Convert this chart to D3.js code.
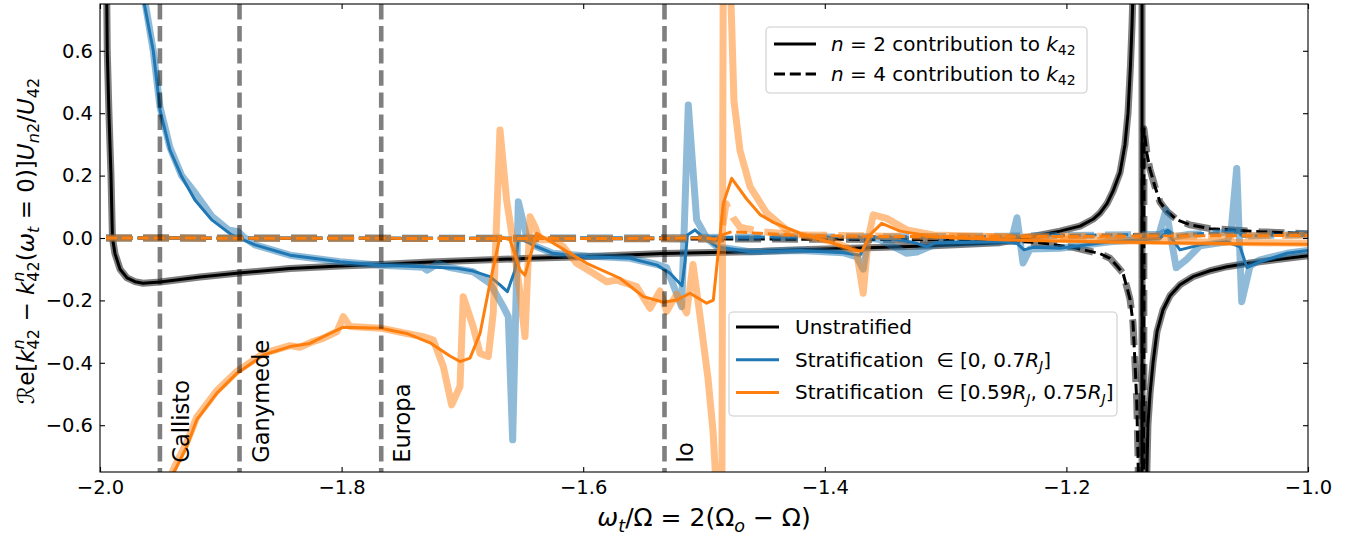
<!DOCTYPE html>
<html>
<head>
<meta charset="utf-8">
<script src="https://cdn.jsdelivr.net/npm/d3@7"></script>
<style>
  body { margin: 0; background: #ffffff; }
  svg { display: block; }
  text { font-family: "DejaVu Sans", sans-serif; white-space: pre; }
</style>
</head>
<body>
<svg id="chart" width="1363" height="534"></svg>
<script>
// ---- axis ticks ----
const xTicks = [-2.0, -1.8, -1.6, -1.4, -1.2, -1.0];
const yTicks = [-0.6, -0.4, -0.2, 0.0, 0.2, 0.4, 0.6];

// ---- Galilean moon tidal frequencies, omega_t / Omega ----
const moonNames = ["Callisto", "Ganymede", "Europa", "Io"];
const moonOmega = [-1.9504, -1.8845, -1.7672, -1.5327];

// ---- unstratified model: n = 2 and n = 4 contributions [omega, value] ----
const unstratN2 = [
  [-1.9955, 1.2], [-1.9940, 0.6], [-1.9926, 0.4], [-1.9909, 0.2], [-1.9897, 0.0],
  [-1.9876, -0.05], [-1.9834, -0.10], [-1.9776, -0.128], [-1.9710, -0.140], [-1.9644, -0.145],
  [-1.9503, -0.141], [-1.9172, -0.125], [-1.8849, -0.112], [-1.8427, -0.098], [-1.8013, -0.090],
  [-1.7674, -0.085], [-1.7268, -0.077], [-1.6772, -0.070], [-1.6440, -0.065], [-1.6002, -0.060],
  [-1.5339, -0.050], [-1.4536, -0.043], [-1.4205, -0.038], [-1.3709, -0.032], [-1.3104, -0.025],
  [-1.2550, -0.015], [-1.2277, 0.005], [-1.2053, 0.022], [-1.1887, 0.038], [-1.1780, 0.060],
  [-1.1722, 0.080], [-1.1664, 0.110], [-1.1614, 0.150], [-1.1556, 0.210], [-1.1515, 0.300],
  [-1.1490, 0.400], [-1.1470, 0.550], [-1.1457, 0.680], [-1.1444, 0.850], [-1.1416, 2.0],
  [-1.1378, 30], [-1.1370, -30], [-1.1349, -2.0], [-1.1337, -0.80], [-1.1325, -0.60],
  [-1.1308, -0.50], [-1.1283, -0.40], [-1.1250, -0.30], [-1.1200, -0.23], [-1.1142, -0.185],
  [-1.1060, -0.150], [-1.0952, -0.124], [-1.0811, -0.105], [-1.0671, -0.092], [-1.0480, -0.080],
  [-1.0273, -0.070], [-1.0000, -0.057]
];
const unstratN4 = [
  [-1.9950, 0.0], [-1.8000, -0.001], [-1.6000, -0.002], [-1.4000, -0.004], [-1.3000, -0.006],
  [-1.2550, -0.008], [-1.2219, -0.015], [-1.1945, -0.030], [-1.1722, -0.050], [-1.1639, -0.065],
  [-1.1581, -0.090], [-1.1531, -0.113], [-1.1498, -0.160], [-1.1474, -0.195], [-1.1449, -0.270],
  [-1.1432, -0.40], [-1.1418, -0.52], [-1.1407, -0.70], [-1.1399, -0.90], [-1.1382, -20],
  [-1.1358, 0.35], [-1.1333, 0.27], [-1.1308, 0.22], [-1.1267, 0.165], [-1.1225, 0.115],
  [-1.1167, 0.085], [-1.1084, 0.058], [-1.0977, 0.042], [-1.0811, 0.030], [-1.0397, 0.020],
  [-1.0000, 0.014]
];

// ---- stratification in [0, 0.7 R_J] ----
const strat1N2 = [
  [-1.9661, 0.82], [-1.9633, 0.75], [-1.9559, 0.60], [-1.9503, 0.41], [-1.9421, 0.282],
  [-1.9324, 0.197], [-1.9214, 0.122], [-1.9075, 0.058], [-1.8910, 0.010], [-1.8717, -0.022],
  [-1.8427, -0.055], [-1.8013, -0.076], [-1.7674, -0.087], [-1.7326, -0.092], [-1.7045, -0.097],
  [-1.6912, -0.106], [-1.6772, -0.124], [-1.6689, -0.150], [-1.6628, -0.172], [-1.6565, -0.103],
  [-1.6537, 0.000], [-1.6385, -0.028], [-1.6250, -0.049], [-1.5969, -0.060], [-1.5613, -0.065],
  [-1.5389, -0.087], [-1.5281, -0.113], [-1.5182, -0.153], [-1.5157, -0.076], [-1.5137, 0.010],
  [-1.5075, 0.026], [-1.5006, 0.002], [-1.4892, -0.028], [-1.4619, -0.044], [-1.4205, -0.040],
  [-1.3849, -0.047], [-1.3709, -0.055], [-1.3626, 0.004], [-1.3502, -0.002], [-1.3377, -0.006],
  [-1.3237, -0.017], [-1.3154, -0.028], [-1.3088, -0.016], [-1.2550, -0.012], [-1.2409, -0.017],
  [-1.2351, -0.038], [-1.2277, -0.030], [-1.2053, -0.033], [-1.1639, -0.012], [-1.1391, -0.006],
  [-1.1225, -0.001], [-1.1167, 0.020], [-1.1060, -0.038], [-1.0894, -0.022], [-1.0671, -0.012],
  [-1.0563, -0.028], [-1.0505, -0.095], [-1.0397, -0.076], [-1.0174, -0.049], [-1.0000, -0.040]
];
const strat1N2Fine = [
  [-1.9655, 0.82], [-1.9559, 0.60], [-1.9503, 0.42], [-1.9421, 0.29], [-1.9324, 0.20],
  [-1.9214, 0.145], [-1.9075, 0.070], [-1.8937, 0.026], [-1.8856, 0.020], [-1.8800, 0.000],
  [-1.8717, -0.022], [-1.8427, -0.055], [-1.8013, -0.076], [-1.7674, -0.087], [-1.7326, -0.094],
  [-1.7293, -0.103], [-1.7202, -0.082], [-1.7103, -0.095], [-1.6912, -0.108], [-1.6772, -0.145],
  [-1.6662, -0.220], [-1.6620, -0.252], [-1.6584, -0.647], [-1.6537, 0.116], [-1.6468, 0.004],
  [-1.6385, -0.028], [-1.6250, -0.049], [-1.5969, -0.058], [-1.5613, -0.065], [-1.5389, -0.085],
  [-1.5309, -0.095], [-1.5185, -0.220], [-1.5130, 0.426], [-1.5061, 0.058], [-1.4978, 0.000],
  [-1.4895, -0.028], [-1.4619, -0.044], [-1.4205, -0.040], [-1.3849, -0.047], [-1.3737, -0.060],
  [-1.3682, -0.100], [-1.3642, 0.000], [-1.3543, -0.005], [-1.3322, -0.049], [-1.3237, -0.045],
  [-1.3088, -0.020], [-1.2550, -0.012], [-1.2450, 0.000], [-1.2409, 0.065], [-1.2359, -0.080],
  [-1.2301, -0.035], [-1.2053, -0.033], [-1.1639, -0.012], [-1.1391, -0.006], [-1.1242, 0.000],
  [-1.1175, 0.090], [-1.1091, -0.095], [-1.1008, -0.070], [-1.0894, -0.025], [-1.0671, -0.012],
  [-1.0637, 0.020], [-1.0590, 0.223], [-1.0549, -0.204], [-1.0480, -0.090], [-1.0397, -0.070],
  [-1.0174, -0.049], [-1.0000, -0.040]
];
const strat1N4 = [
  [-1.9950, 0.0], [-1.7000, 0.0], [-1.5500, 0.001], [-1.4500, 0.003], [-1.3500, 0.004],
  [-1.2500, 0.006], [-1.2000, 0.008], [-1.1225, 0.012], [-1.1159, 0.025], [-1.1093, 0.005],
  [-1.0977, 0.012], [-1.0588, 0.020], [-1.0540, 0.006], [-1.0000, 0.012]
];

// ---- stratification in [0.59 R_J, 0.75 R_J] ----
const strat2N2 = [
  [-1.9437, -0.78], [-1.9379, -0.744], [-1.9282, -0.669], [-1.9200, -0.583], [-1.9034, -0.498],
  [-1.8868, -0.434], [-1.8648, -0.375], [-1.8427, -0.348], [-1.8262, -0.338], [-1.8151, -0.316],
  [-1.7986, -0.286], [-1.7674, -0.289], [-1.7461, -0.306], [-1.7268, -0.336], [-1.7103, -0.378],
  [-1.7020, -0.396], [-1.6937, -0.385], [-1.6854, -0.306], [-1.6772, -0.145], [-1.6689, 0.004],
  [-1.6606, -0.006], [-1.6523, -0.103], [-1.6482, -0.119], [-1.6385, 0.015], [-1.6247, -0.017],
  [-1.5971, -0.081], [-1.5695, -0.129], [-1.5502, -0.188], [-1.5336, -0.206], [-1.5226, -0.199],
  [-1.5116, -0.177], [-1.4978, -0.209], [-1.4923, -0.199], [-1.4840, 0.111], [-1.4771, 0.191],
  [-1.4647, 0.125], [-1.4536, 0.075], [-1.4426, 0.050], [-1.4205, 0.015], [-1.3930, -0.017],
  [-1.3742, -0.040], [-1.3692, -0.042], [-1.3626, 0.010], [-1.3529, 0.047], [-1.3377, 0.022],
  [-1.3104, 0.004], [-1.2550, -0.006], [-1.1722, -0.012], [-1.0894, -0.017], [-1.0000, -0.020]
];
const strat2N2Fine = [
  [-1.9455, -0.80], [-1.9379, -0.730], [-1.9282, -0.655], [-1.9200, -0.575], [-1.9034, -0.490],
  [-1.8868, -0.428], [-1.8648, -0.370], [-1.8427, -0.345], [-1.8344, -0.350], [-1.8237, -0.332],
  [-1.8154, -0.322], [-1.8038, -0.300], [-1.7986, -0.252], [-1.7930, -0.284], [-1.7674, -0.289],
  [-1.7461, -0.306], [-1.7326, -0.316], [-1.7241, -0.327], [-1.7158, -0.412], [-1.7089, -0.535],
  [-1.7020, -0.476], [-1.6993, -0.188], [-1.6911, -0.284], [-1.6854, -0.370], [-1.6786, -0.380],
  [-1.6745, -0.241], [-1.6689, 0.346], [-1.6634, 0.122], [-1.6579, -0.017], [-1.6523, -0.177],
  [-1.6482, -0.316], [-1.6440, 0.068], [-1.6399, 0.036], [-1.6358, -0.006], [-1.6247, -0.006],
  [-1.6165, -0.028], [-1.6054, -0.081], [-1.5916, -0.113], [-1.5806, -0.140], [-1.5723, -0.135],
  [-1.5558, -0.156], [-1.5447, -0.225], [-1.5364, -0.170], [-1.5309, -0.235], [-1.5226, -0.180],
  [-1.5144, -0.240], [-1.5091, -0.085], [-1.5033, -0.250], [-1.4967, -0.450], [-1.4925, -0.620],
  [-1.4892, -0.850], [-1.4863, -2.5], [-1.4830, 2.5], [-1.4797, 1.0], [-1.4772, 0.70],
  [-1.4752, 0.44], [-1.4702, 0.28], [-1.4619, 0.165], [-1.4481, 0.080], [-1.4316, 0.026],
  [-1.4205, 0.010], [-1.3930, -0.012], [-1.3737, -0.044], [-1.3682, -0.177], [-1.3640, 0.000],
  [-1.3599, 0.074], [-1.3488, 0.063], [-1.3322, 0.026], [-1.3104, 0.010], [-1.2550, 0.004],
  [-1.1722, -0.008], [-1.0894, -0.013], [-1.0000, -0.017]
];
const strat2N4 = [
  [-1.9950, 0.0], [-1.6000, -0.002], [-1.5000, 0.0], [-1.4909, -0.004], [-1.4851, 0.010],
  [-1.4771, 0.020], [-1.4536, 0.015], [-1.4205, 0.008], [-1.3500, 0.005], [-1.2500, 0.004],
  [-1.1500, 0.006], [-1.0000, 0.008]
];
const strat2N4Fine = [
  [-1.9950, 0.0], [-1.6000, -0.002], [-1.5000, 0.0], [-1.4909, -0.010], [-1.4860, 0.000],
  [-1.4818, 0.110], [-1.4760, 0.065], [-1.4702, 0.035], [-1.4536, 0.020], [-1.4205, 0.010],
  [-1.3500, 0.006], [-1.2500, 0.004], [-1.1500, 0.006], [-1.0000, 0.008]
];

// ---- model colours (legend order) ----
const modelColors = ["#000000", "#1f77b4", "#ff7f0e"];

// ---- layout ----
const L = 100, R = 1308, T = 4, B = 472;
const FONT = "DejaVu Sans, sans-serif";

const svg = d3.select("#chart");
const x = d3.scaleLinear().domain([-2, -1]).range([L, R]);
const y = d3.scaleLinear().domain([-0.75, 0.75]).range([B, T]);

svg.append("defs").append("clipPath").attr("id", "plotClip")
  .append("rect").attr("x", L).attr("y", T).attr("width", R - L).attr("height", B - T);

const line = d3.line().x(d => x(d[0])).y(d => y(d[1]));
const plot = svg.append("g").attr("clip-path", "url(#plotClip)");

const THIN = 3, THICK = 7;
const THIN_DASH = "11,4.8", THICK_DASH = "26,11";

function drawCurve(data, color, width, dashed, opacity) {
  plot.append("path")
    .datum(data)
    .attr("d", line)
    .attr("fill", "none")
    .attr("stroke", color)
    .attr("stroke-width", width)
    .attr("stroke-opacity", opacity)
    .attr("stroke-linejoin", "round")
    .attr("stroke-dasharray", dashed ? (width > 4 ? THICK_DASH : THIN_DASH) : null);
}

// each model: finely resolved (wide, translucent) underneath, reference curve on top
const models = [
  { n2: unstratN2, n2Fine: unstratN2, n4: unstratN4, n4Fine: unstratN4, color: modelColors[0] },
  { n2: strat1N2, n2Fine: strat1N2Fine, n4: strat1N4, n4Fine: strat1N4, color: modelColors[1] },
  { n2: strat2N2, n2Fine: strat2N2Fine, n4: strat2N4, n4Fine: strat2N4Fine, color: modelColors[2] }
];
models.forEach(m => {
  drawCurve(m.n2Fine, m.color, THICK, false, 0.5);
  drawCurve(m.n4Fine, m.color, THICK, true, 0.5);
  drawCurve(m.n2, m.color, THIN, false, 1);
  drawCurve(m.n4, m.color, THIN, true, 1);
});

// moon frequencies
moonOmega.forEach((w, i) => {
  plot.append("line")
    .attr("x1", x(w)).attr("x2", x(w)).attr("y1", T).attr("y2", B)
    .attr("stroke", "#000").attr("stroke-opacity", 0.5)
    .attr("stroke-width", 4.6).attr("stroke-dasharray", "15.4,6.7");
  svg.append("text")
    .attr("transform", `translate(${x(w) + 29},${y(-0.72)}) rotate(-90)`)
    .attr("font-size", 22.5)
    .attr("fill", "#000")
    .text(moonNames[i]);
});

// ---- axes: inward ticks on all four sides ----
const fmt = d3.format(".1f");
function styleAxis(g) {
  g.select(".domain").remove();
  g.selectAll(".tick line").attr("stroke", "#000").attr("stroke-width", 1.1);
  g.selectAll(".tick text").attr("font-family", FONT).attr("font-size", 19.5).attr("fill", "#000");
}
svg.append("g").attr("transform", `translate(0,${B})`)
  .call(d3.axisBottom(x).tickValues(xTicks).tickSize(-5).tickPadding(8).tickFormat(fmt))
  .call(styleAxis);
svg.append("g").attr("transform", `translate(0,${T})`)
  .call(d3.axisTop(x).tickValues(xTicks).tickSize(-5).tickFormat(""))
  .call(styleAxis);
svg.append("g").attr("transform", `translate(${L},0)`)
  .call(d3.axisLeft(y).tickValues(yTicks).tickSize(-5).tickPadding(7).tickFormat(fmt))
  .call(styleAxis);
svg.append("g").attr("transform", `translate(${R},0)`)
  .call(d3.axisRight(y).tickValues(yTicks).tickSize(-5).tickFormat(""))
  .call(styleAxis);

svg.append("rect")
  .attr("x", L).attr("y", T).attr("width", R - L).attr("height", B - T)
  .attr("fill", "none").attr("stroke", "#000").attr("stroke-width", 1.1);

// ---- math-style text from pieces (italic, sub/superscripts) ----
function addMath(textSel, parts, size) {
  let shift = 0, prev = null;
  parts.forEach(p => {
    const ts = textSel.append("tspan").text(p.t);
    let target = 0;
    if (p.sub) target = 0.22 * size;
    if (p.sup) target = -0.42 * size;
    if (p.sub || p.sup) ts.attr("font-size", size * 0.7);
    if (p.it) ts.attr("font-style", "italic");
    if (target - shift !== 0) ts.attr("dy", target - shift);
    shift = target;
    if (p.stack && prev) ts.attr("dx", -prev.node().getComputedTextLength());
    prev = ts;
  });
}

// x label
const xl = svg.append("text").attr("x", 704).attr("y", 526)
  .attr("text-anchor", "middle").attr("font-size", 25).attr("fill", "#000");
addMath(xl, [
  { t: "ω", it: 1 }, { t: "t", it: 1, sub: 1 }, { t: "/Ω = 2(Ω" }, { t: "o", it: 1, sub: 1 },
  { t: " − Ω)" }
], 25);

// y label
const yl = svg.append("text")
  .attr("transform", `translate(34,${(T + B) / 2 + 3}) rotate(-90)`)
  .attr("text-anchor", "middle").attr("font-size", 23).attr("fill", "#000");
addMath(yl, [
  { t: "ℛe[" }, { t: "k", it: 1 }, { t: "n", it: 1, sup: 1 }, { t: "42", sub: 1, stack: 1 },
  { t: " − " }, { t: "k", it: 1 }, { t: "n", it: 1, sup: 1 }, { t: "42", sub: 1, stack: 1 },
  { t: "(" }, { t: "ω", it: 1 }, { t: "t", it: 1, sub: 1 }, { t: " = 0)]" },
  { t: "U", it: 1 }, { t: "n", it: 1, sub: 1 }, { t: "2", sub: 1 }, { t: "/" },
  { t: "U", it: 1 }, { t: "42", sub: 1 }
], 23);

// ---- legends ----
function legendBox(x0, y0, w, h) {
  svg.append("rect").attr("x", x0).attr("y", y0).attr("width", w).attr("height", h)
    .attr("rx", 4).attr("fill", "#fff").attr("fill-opacity", 0.8)
    .attr("stroke", "#cccccc").attr("stroke-width", 1.1);
}
function legendLine(x1, x2, yy, color, dashed) {
  svg.append("line").attr("x1", x1).attr("x2", x2).attr("y1", yy).attr("y2", yy)
    .attr("stroke", color).attr("stroke-width", THIN)
    .attr("stroke-dasharray", dashed ? THIN_DASH : null);
}

// contribution legend
legendBox(766, 27, 321, 66);
[[44, false, "2"], [74, true, "4"]].forEach(([yy, dashed, n]) => {
  legendLine(774, 816, yy, "#000", dashed);
  const t = svg.append("text").attr("x", 831).attr("y", yy + 7).attr("font-size", 20).attr("fill", "#000");
  addMath(t, [{ t: "n", it: 1 }, { t: ` = ${n} contribution to ` }, { t: "k", it: 1 }, { t: "42", sub: 1 }], 20);
});

// model legend
legendBox(729, 312, 388, 104);
const legendRows = [
  [{ t: "Unstratified" }],
  [{ t: "Stratification  ∈ [0, 0.7" }, { t: "R", it: 1 }, { t: "J", it: 1, sub: 1 }, { t: "]" }],
  [{ t: "Stratification  ∈ [0.59" }, { t: "R", it: 1 }, { t: "J", it: 1, sub: 1 }, { t: ", 0.75" },
   { t: "R", it: 1 }, { t: "J", it: 1, sub: 1 }, { t: "]" }]
];
legendRows.forEach((parts, i) => {
  const yy = 327 + i * 32.7;
  legendLine(736, 779, yy, modelColors[i], false);
  const t = svg.append("text").attr("x", 795).attr("y", yy + 7).attr("font-size", 20).attr("fill", "#000");
  addMath(t, parts, 20);
});
</script>
</body>
</html>
